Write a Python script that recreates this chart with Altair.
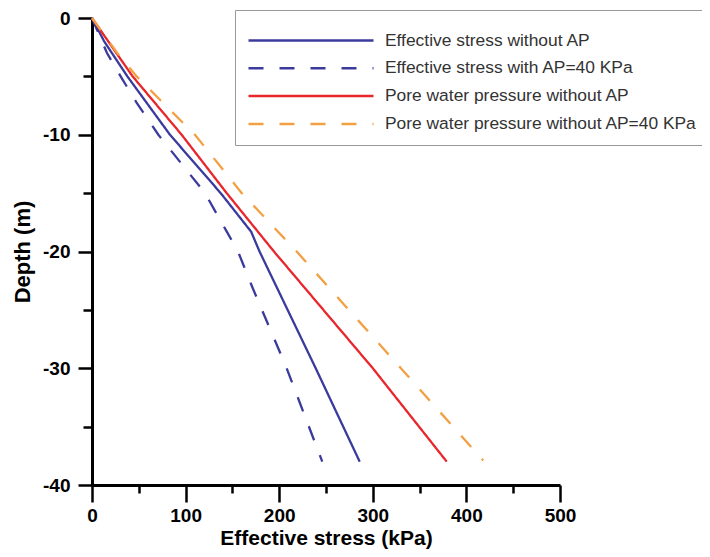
import altair as alt
import pandas as pd

series_names = [
    "Effective stress without AP",
    "Effective stress with AP=40 KPa",
    "Pore water pressure without AP",
    "Pore water pressure without AP=40 KPa",
]
series_colors = ["#3b3b9e", "#3b3b9e", "#e8262c", "#f2a043"]
series_dashes = [[1, 0], [15, 16], [1, 0], [15, 16]]

# depth (m, positive downward) and stress (kPa)
es_noap_depth = [0, 2, 5, 10, 15, 18.3, 20, 30, 38]
es_noap_stress = [0, 13, 37.8, 83.3, 137.5, 170, 179, 239, 286]

es_ap_depth = [0, 3, 5, 7.3, 10, 15, 18.3, 20, 23, 30, 38]
es_ap_stress = [0, 16, 30.6, 48, 70.9, 120.7, 144, 156, 171, 208, 246]

pw_noap_depth = [0, 5, 10, 15, 20, 30, 38]
pw_noap_stress = [0, 43.4, 95.8, 143.9, 194.4, 300, 379]

pw_ap_depth = [0, 3, 5, 10, 15, 20, 30, 37.9]
pw_ap_stress = [0, 27, 47.7, 110, 160, 218.7, 330, 418]

x_major = [0, 100, 200, 300, 400, 500]
x_minor = [50, 150, 250, 350, 450]
y_major = [0, -10, -20, -30, -40]
y_minor = [-5, -15, -25, -35]

rows = []
for name, ds, ss in zip(
    series_names,
    [es_noap_depth, es_ap_depth, pw_noap_depth, pw_ap_depth],
    [es_noap_stress, es_ap_stress, pw_noap_stress, pw_ap_stress],
):
    for i, (d, s) in enumerate(zip(ds, ss)):
        rows.append({"series": name, "depth": -d, "stress": s, "idx": i})
df = pd.DataFrame(rows)

FONT = "Liberation Sans"

legend = alt.Legend(
    title=" ",
    titleFontSize=3,
    titlePadding=1.5,
    orient="none",
    legendX=143,
    legendY=-8,
    padding=12,
    symbolType="M-1,0H9",
    symbolSize=625,
    symbolStrokeWidth=2.5,
    symbolFillColor="transparent",
    labelOffset=110,
    rowPadding=4.8,
    labelFont=FONT,
    labelFontSize=17.4,
    labelColor="#333333",
    labelLimit=500,
    strokeColor="#999999",
    fillColor="white",
)

xscale = alt.Scale(domain=[0, 500], nice=False, zero=False)
yscale = alt.Scale(domain=[-40, 0], nice=False, zero=False)

lines = alt.Chart(df).mark_line(strokeWidth=2.3).encode(
    x=alt.X(
        "stress:Q",
        scale=xscale,
        axis=alt.Axis(
            values=x_major,
            tickSize=17,
            labelPadding=4,
            labelFlush=False,
            labelExpr="'' + datum.value",
            title="Effective stress (kPa)",
            titlePadding=2,
            titleFontSize=21,
            orient="bottom",
            grid=False,
        ),
    ),
    y=alt.Y(
        "depth:Q",
        scale=yscale,
        axis=alt.Axis(
            values=y_major,
            tickSize=14,
            labelPadding=8,
            labelFlush=False,
            labelExpr="'' + datum.value",
            title="Depth (m)",
            titlePadding=8,
            orient="left",
            grid=False,
        ),
    ),
    color=alt.Color(
        "series:N",
        scale=alt.Scale(domain=series_names, range=series_colors),
        legend=legend,
    ),
    strokeDash=alt.StrokeDash(
        "series:N",
        scale=alt.Scale(domain=series_names, range=series_dashes),
        legend=legend,
    ),
    order="idx:Q",
)

minor = alt.Chart(df).mark_line(opacity=0).encode(
    x=alt.X(
        "stress:Q",
        scale=xscale,
        axis=alt.Axis(values=x_minor, tickSize=8, labels=False, domain=False,
                      title=None, orient="bottom", grid=False),
    ),
    y=alt.Y(
        "depth:Q",
        scale=yscale,
        axis=alt.Axis(values=y_minor, tickSize=9, labels=False, domain=False,
                      title=None, orient="left", grid=False),
    ),
    detail="series:N",
    order="idx:Q",
)

chart = (
    alt.layer(lines, minor)
    .resolve_axis(x="independent", y="independent")
    .properties(
        width=468,
        height=467,
        padding={"left": 84, "top": 10, "right": 142, "bottom": 64},
        autosize=alt.AutoSizeParams(type="none"),
    )
    .configure_view(stroke=None)
    .configure_axis(
        domainColor="black",
        domainWidth=3,
        tickColor="black",
        tickWidth=2.5,
        labelFont=FONT,
        labelFontWeight="bold",
        labelFontSize=19,
        labelColor="black",
        titleFont=FONT,
        titleFontWeight="bold",
        titleFontSize=22,
        titleColor="black",
    )
)

chart.save("out.html", embed_options={"renderer": "svg", "actions": False})
